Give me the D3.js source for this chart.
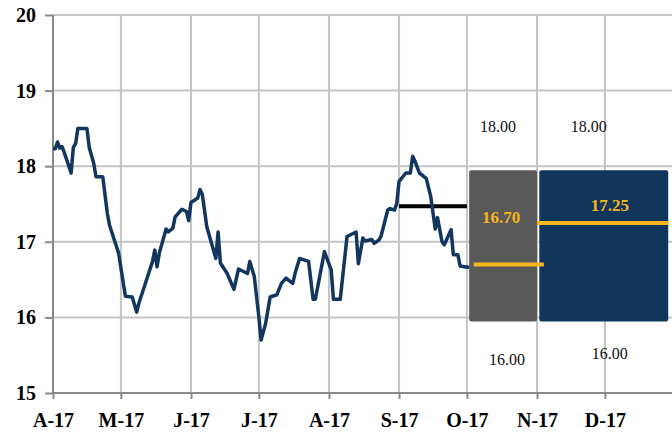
<!DOCTYPE html>
<html>
<head>
<meta charset="utf-8">
<script src="https://cdn.jsdelivr.net/npm/d3@7"></script>
<style>
  body { margin: 0; background: #fff; }
  svg { display: block; }
  .tickLbl { font-family: "Liberation Serif", "Times New Roman", serif; font-weight: bold; font-size: 20px; fill: #000; }
</style>
</head>
<body>
<script>
// serie diaria (fecha, valor)
var fechas = ["2017-04-01","2017-04-02","2017-04-03","2017-04-04","2017-04-05","2017-04-06","2017-04-09","2017-04-10",
  "2017-04-11","2017-04-12","2017-04-16","2017-04-17","2017-04-19","2017-04-20","2017-04-23","2017-04-25",
  "2017-04-26","2017-04-30","2017-05-03","2017-05-06","2017-05-08","2017-05-09","2017-05-15","2017-05-16",
  "2017-05-17","2017-05-18","2017-05-21","2017-05-22","2017-05-24","2017-05-25","2017-05-28","2017-05-30",
  "2017-05-31","2017-06-01","2017-06-04","2017-06-05","2017-06-06","2017-06-08","2017-06-12","2017-06-13",
  "2017-06-14","2017-06-17","2017-06-20","2017-06-22","2017-06-26","2017-06-27","2017-06-29","2017-07-01",
  "2017-07-02","2017-07-04","2017-07-06","2017-07-09","2017-07-11","2017-07-13","2017-07-16","2017-07-17",
  "2017-07-19","2017-07-23","2017-07-25","2017-07-26","2017-07-30","2017-08-02","2017-08-03","2017-08-06",
  "2017-08-09","2017-08-13","2017-08-14","2017-08-16","2017-08-17","2017-08-20","2017-08-21","2017-08-23",
  "2017-08-24","2017-08-27","2017-08-28","2017-08-30","2017-08-31","2017-09-01","2017-09-04","2017-09-06",
  "2017-09-07","2017-09-08","2017-09-10","2017-09-13","2017-09-15","2017-09-17","2017-09-18","2017-09-20",
  "2017-09-21","2017-09-24","2017-09-25","2017-09-27","2017-09-28","2017-10-02"];
var valores = [18.23,18.23,18.32,18.24,18.26,18.18,17.91,18.25,
  18.30,18.50,18.50,18.25,18.04,17.86,17.86,17.38,
  17.22,16.85,16.28,16.27,16.07,16.19,16.74,16.89,
  16.67,16.85,17.17,17.13,17.18,17.33,17.43,17.40,
  17.28,17.52,17.58,17.69,17.63,17.20,16.78,17.13,
  16.72,16.58,16.37,16.64,16.58,16.74,16.54,16.01,
  15.70,15.92,16.27,16.30,16.45,16.52,16.45,16.58,
  16.78,16.74,16.24,16.24,16.87,16.63,16.24,16.24,
  17.07,17.13,16.71,17.05,17.01,17.03,16.98,17.02,
  17.07,17.42,17.44,17.42,17.51,17.80,17.91,17.91,
  18.13,18.07,17.91,17.84,17.60,17.17,17.32,17.00,
  16.96,17.16,16.83,16.83,16.68,16.66];

// media de septiembre (linea negra)
var mediaInicio = "2017-09-01", mediaFin = "2017-10-01", mediaValor = 17.47;

// cajas de rango de pronostico
var cajaInicio = ["2017-10-02", "2017-11-02"];
var cajaFin    = ["2017-11-01", "2017-12-29"];
var cajaMin    = [16.00, 16.00];
var cajaMax    = [18.00, 18.00];
var cajaPunto  = [16.70, 17.25];
var puntoInicio = ["2017-10-04", "2017-11-01"];
var puntoFin    = ["2017-11-04", "2017-12-29"];
var cajaColor  = ["#595959", "#12355b"];

// ticks
var ticksY = [15, 16, 17, 18, 19, 20];
var letrasMes = ["J","F","M","A","M","J","J","A","S","O","N","D"];

var vis = { w: 672, h: 432, left: 53, right: 675, top: 15, bottom: 393 };

var parse = d3.timeParse("%Y-%m-%d");
var serie = fechas.map(function(f, i) { return { fecha: parse(f), valor: valores[i] }; });

var svg = d3.select("body").append("svg")
  .attr("width", vis.w).attr("height", vis.h);

var x = d3.scaleTime()
  .domain([new Date(2017, 3, 1), new Date(2018, 0, 1)])
  .range([vis.left, vis.right]);
var y = d3.scaleLinear().domain([15, 20]).range([vis.bottom, vis.top]);

var meses = d3.timeMonth.range(new Date(2017, 3, 1), new Date(2018, 0, 1));

// rejilla
svg.append("g").selectAll("line").data(ticksY.slice(1)).enter().append("line")
  .attr("x1", vis.left).attr("x2", vis.right)
  .attr("y1", function(d) { return y(d); }).attr("y2", function(d) { return y(d); })
  .attr("stroke", "#c4c4c4").attr("stroke-width", 2);
svg.append("g").selectAll("line").data(meses.slice(1)).enter().append("line")
  .attr("x1", function(d) { return x(d); }).attr("x2", function(d) { return x(d); })
  .attr("y1", vis.top).attr("y2", vis.bottom)
  .attr("stroke", "#c4c4c4").attr("stroke-width", 2);

// ejes
var ejeY = svg.append("g").attr("transform", "translate(" + vis.left + ",0)")
  .call(d3.axisLeft(y).tickValues(ticksY).tickSize(8).tickPadding(9).tickFormat(d3.format("d")));
var ejeX = svg.append("g").attr("transform", "translate(0," + vis.bottom + ")")
  .call(d3.axisBottom(x).tickValues(meses).tickSize(6).tickPadding(14)
    .tickFormat(function(d) { return letrasMes[d.getMonth()] + "-17"; }));
[ejeY, ejeX].forEach(function(g) {
  g.select(".domain").attr("stroke", "#8a8a8a").attr("stroke-width", 2);
  g.selectAll(".tick line").attr("stroke", "#8a8a8a").attr("stroke-width", 2);
  g.selectAll(".tick text").attr("class", "tickLbl");
});
ejeX.select(".domain").attr("d", "M" + vis.left + ",0H" + vis.right);
ejeY.select(".domain").attr("d", "M0," + vis.bottom + "V" + vis.top);

// cajas
var cajas = cajaInicio.map(function(d, i) {
  return { x0: parse(d), x1: parse(cajaFin[i]), lo: cajaMin[i], hi: cajaMax[i],
           p: cajaPunto[i], p0: parse(puntoInicio[i]), p1: parse(puntoFin[i]), color: cajaColor[i] };
});
svg.append("g").selectAll("rect").data(cajas).enter().append("rect")
  .attr("x", function(d) { return x(d.x0); })
  .attr("width", function(d) { return x(d.x1) - x(d.x0); })
  .attr("y", function(d) { return y(d.hi) + 4; })
  .attr("height", function(d) { return y(d.lo) - y(d.hi); })
  .attr("rx", 2)
  .attr("fill", function(d) { return d.color; });

svg.append("g").selectAll("line").data(cajas).enter().append("line")
  .attr("x1", function(d) { return x(d.p0); }).attr("x2", function(d) { return x(d.p1); })
  .attr("y1", function(d) { return y(d.p); }).attr("y2", function(d) { return y(d.p); })
  .attr("stroke", "#f6b51d").attr("stroke-width", 4);

// etiquetas de las cajas
var serif = "'Liberation Serif', 'Times New Roman', serif";
var dxPunto = [-2, 6], dyPunto = [-41, -12];
svg.append("g").selectAll("text").data(cajas).enter().append("text")
  .attr("x", function(d, i) { return (x(d.x0) + x(d.x1)) / 2 + dxPunto[i]; })
  .attr("y", function(d, i) { return y(d.p) + dyPunto[i]; })
  .attr("text-anchor", "middle")
  .style("font-family", serif).style("font-weight", "bold").style("font-size", "17px")
  .attr("fill", "#f6b51d")
  .text(function(d) { return d.p.toFixed(2); });

var dxMax = [-5, -15], dxMin = [4, 6];
svg.append("g").selectAll("text").data(cajas).enter().append("text")
  .attr("x", function(d, i) { return (x(d.x0) + x(d.x1)) / 2 + dxMax[i]; })
  .attr("y", function(d) { return y(d.hi) - 34; })
  .attr("text-anchor", "middle")
  .style("font-family", serif).style("font-size", "16px").attr("fill", "#111")
  .text(function(d) { return d.hi.toFixed(2); });
var dyMin = [48, 42];
svg.append("g").selectAll("text").data(cajas).enter().append("text")
  .attr("x", function(d, i) { return (x(d.x0) + x(d.x1)) / 2 + dxMin[i]; })
  .attr("y", function(d, i) { return y(d.lo) + dyMin[i]; })
  .attr("text-anchor", "middle")
  .style("font-family", serif).style("font-size", "16px").attr("fill", "#111")
  .text(function(d) { return d.lo.toFixed(2); });

// media de septiembre
svg.append("line")
  .attr("x1", x(parse(mediaInicio))).attr("x2", x(parse(mediaFin)))
  .attr("y1", y(mediaValor)).attr("y2", y(mediaValor))
  .attr("stroke", "#000").attr("stroke-width", 4);

// serie
var linea = d3.line()
  .x(function(d) { return x(d.fecha); })
  .y(function(d) { return y(d.valor); });
svg.append("path").datum(serie)
  .attr("d", linea)
  .attr("fill", "none")
  .attr("stroke", "#12365e")
  .attr("stroke-width", 3.5)
  .attr("stroke-linejoin", "round");
</script>
</body>
</html>
